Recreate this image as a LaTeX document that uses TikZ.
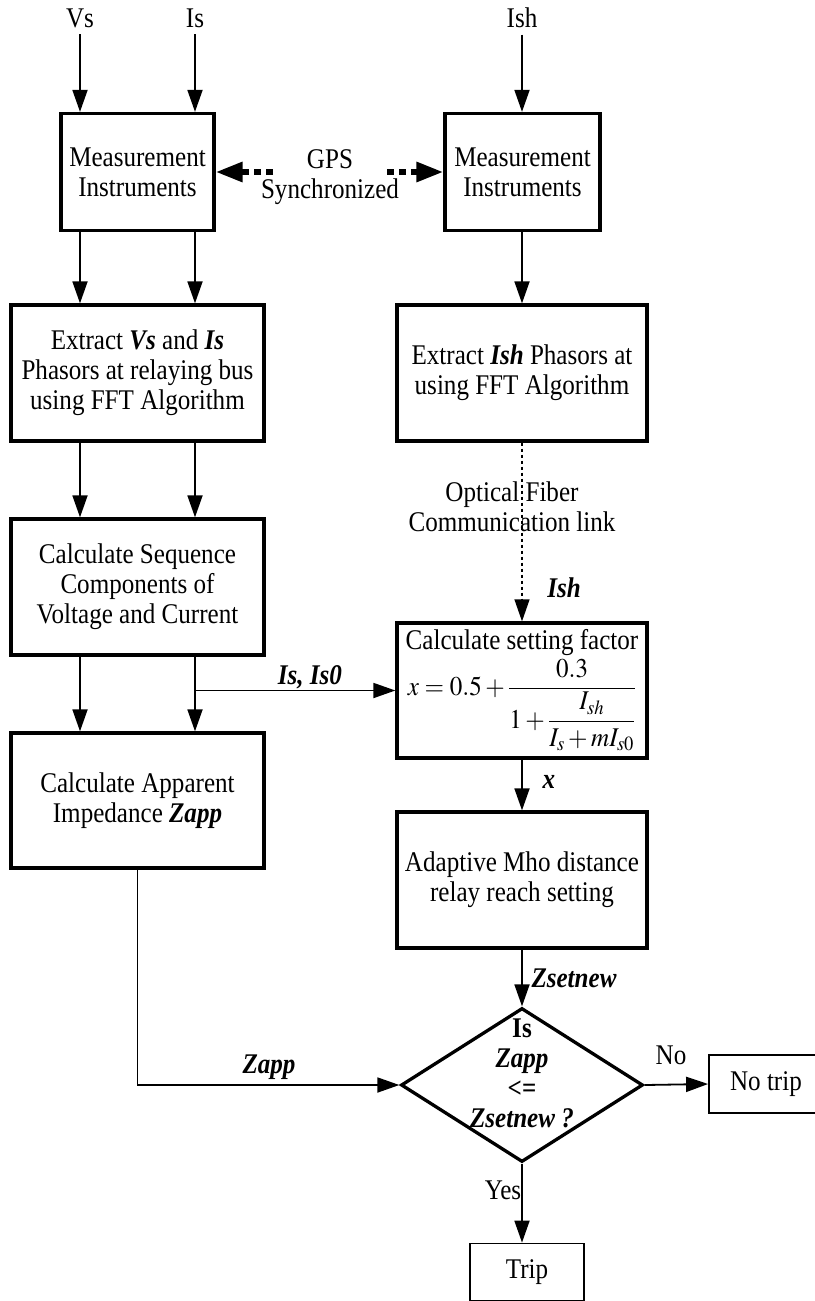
\documentclass[tikz,border=0pt]{standalone}
\usepackage{amsmath}
\usepackage{mathptmx}
\usepackage{fontspec}
\setmainfont{Liberation Serif}[FakeStretch=0.88]
\usetikzlibrary{arrows.meta}
\usetikzlibrary{shapes.geometric}
\newcommand{\bfit}[1]{\textbf{\textit{#1}}}

\begin{document}
\begin{tikzpicture}[x=1pt, y=-1pt,
    font=\fontsize{28.5}{30}\selectfont,
    block/.style={draw, line width=3.3pt, align=center, minimum height=136pt, inner sep=0pt},
    result/.style={draw, line width=1.8pt, minimum width=114pt, minimum height=57pt},
    arr/.style={line width=1.8pt, -{Triangle[length=22pt,width=15pt]}},
    gpsarr/.style={line width=6pt, dash pattern=on 7pt off 5pt, -{Triangle[length=27pt,width=19pt]}},
    fiber/.style={line width=1.3pt, dash pattern=on 3pt off 3pt, -{Triangle[length=22pt,width=15pt]}},
    lbl/.style={font=\fontsize{28.5}{30}\selectfont\bfseries\itshape}]
    \useasboundingbox (0,0) rectangle (814,1301);

    % Inputs
    \node (vs) at (80,18) {Vs};
    \node (is) at (195,18) {Is};
    \node (ish) at (522,18) {Ish};

    % Measurement
    \node[block, minimum width=153pt, minimum height=117pt] (meas1) at (137.5,172) {Measurement\\Instruments};
    \node[block, minimum width=155pt, minimum height=117pt] (meas2) at (522.5,172) {Measurement\\Instruments};
    \node[align=center] (gps) at (330,177.5) {GPS\\Synchronized};
    \coordinate (gpsl) at (273,172);
    \coordinate (gpsr) at (387,172);

    % Left column
    \node[block, minimum width=253pt] (ext1) at (137.5,373) {Extract \bfit{Vs} and \bfit{Is}\\Phasors at relaying bus\\using FFT Algorithm};
    \node[block, minimum width=253pt] (seq) at (137.5,587) {Calculate Sequence\\Components of\\Voltage and Current};
    \node[block, minimum width=253pt, minimum height=135pt] (zapp) at (137.5,800.5) {Calculate Apparent\\Impedance \bfit{Zapp}};

    % Right column
    \node[block, minimum width=250pt] (ext2) at (522,373) {Extract \bfit{Ish} Phasors at\\using FFT Algorithm};
    \node[block, minimum width=250pt, minimum height=135pt] (setf) at (522,690.5)
        {Calculate setting factor\\[2pt] \scalebox{0.88}[0.95]{$\displaystyle x=0.5+\dfrac{0.3}{1+\dfrac{I_{sh}}{I_s+mI_{s0}}}$}};
    \node[block, minimum width=250pt] (mho) at (522,880) {Adaptive Mho distance\\relay reach setting};
    \node[align=center] (fib) at (512,507) {Optical Fiber\\Communication link};

    % Decision
    \node[diamond, draw, line width=3.3pt, minimum width=242pt, minimum height=154pt, inner sep=0pt] (dec) at (522,1085) {};
    \node[align=center] (dectext) at (522,1073) {\textbf{Is}\\\bfit{Zapp}\\\textbf{<=}\\\bfit{Zsetnew ?}};
    \node[result, minimum height=58pt] (notrip) at (766,1084) {No trip};
    \node[result] (trip) at (527,1272) {Trip};

    % Arrows
    \foreach \c in {vs,is} {
        \draw[arr, shorten <=3pt] (\c.south) -- (\c |- meas1.north);
        \draw[arr] (meas1.south -| \c) -- (ext1.north -| \c);
        \draw[arr] (ext1.south -| \c) -- (seq.north -| \c);
        \draw[arr] (seq.south -| \c) -- (zapp.north -| \c);
    }
    \draw[arr, shorten <=3pt] (ish.south) -- (ish |- meas2.north);
    \draw[arr] (meas2.south -| ish) -- (ext2.north -| ish);
    \draw[gpsarr] (gpsl) -- (meas1.east);
    \draw[gpsarr] (gpsr) -- (meas2.west);
    \draw[fiber] (ext2.south) -- (setf.north);
    \coordinate (br) at (is |- setf.west);
    \draw[arr] (br) -- (setf.west);
    \draw[arr] (setf.south) -- (mho.north);
    \draw[arr] (mho.south) -- (dec.north);
    \draw[arr] (zapp.south) |- (dec.west);
    \draw[arr] (dec.east) -- (notrip.west);
    \draw[arr] (dec.south) -- (dec.south |- trip.north);

    % Labels
    \node[lbl] at (564,588) {Ish};
    \node[lbl] at (310,677) {Is, Is0};
    \node[lbl] at (549,782) {x};
    \node[lbl] at (574,978) {Zsetnew};
    \node[lbl] at (269,1067) {Zapp};
    \node at (671,1055) {No};
    \node at (503,1190) {Yes};
\end{tikzpicture}
\end{document}
